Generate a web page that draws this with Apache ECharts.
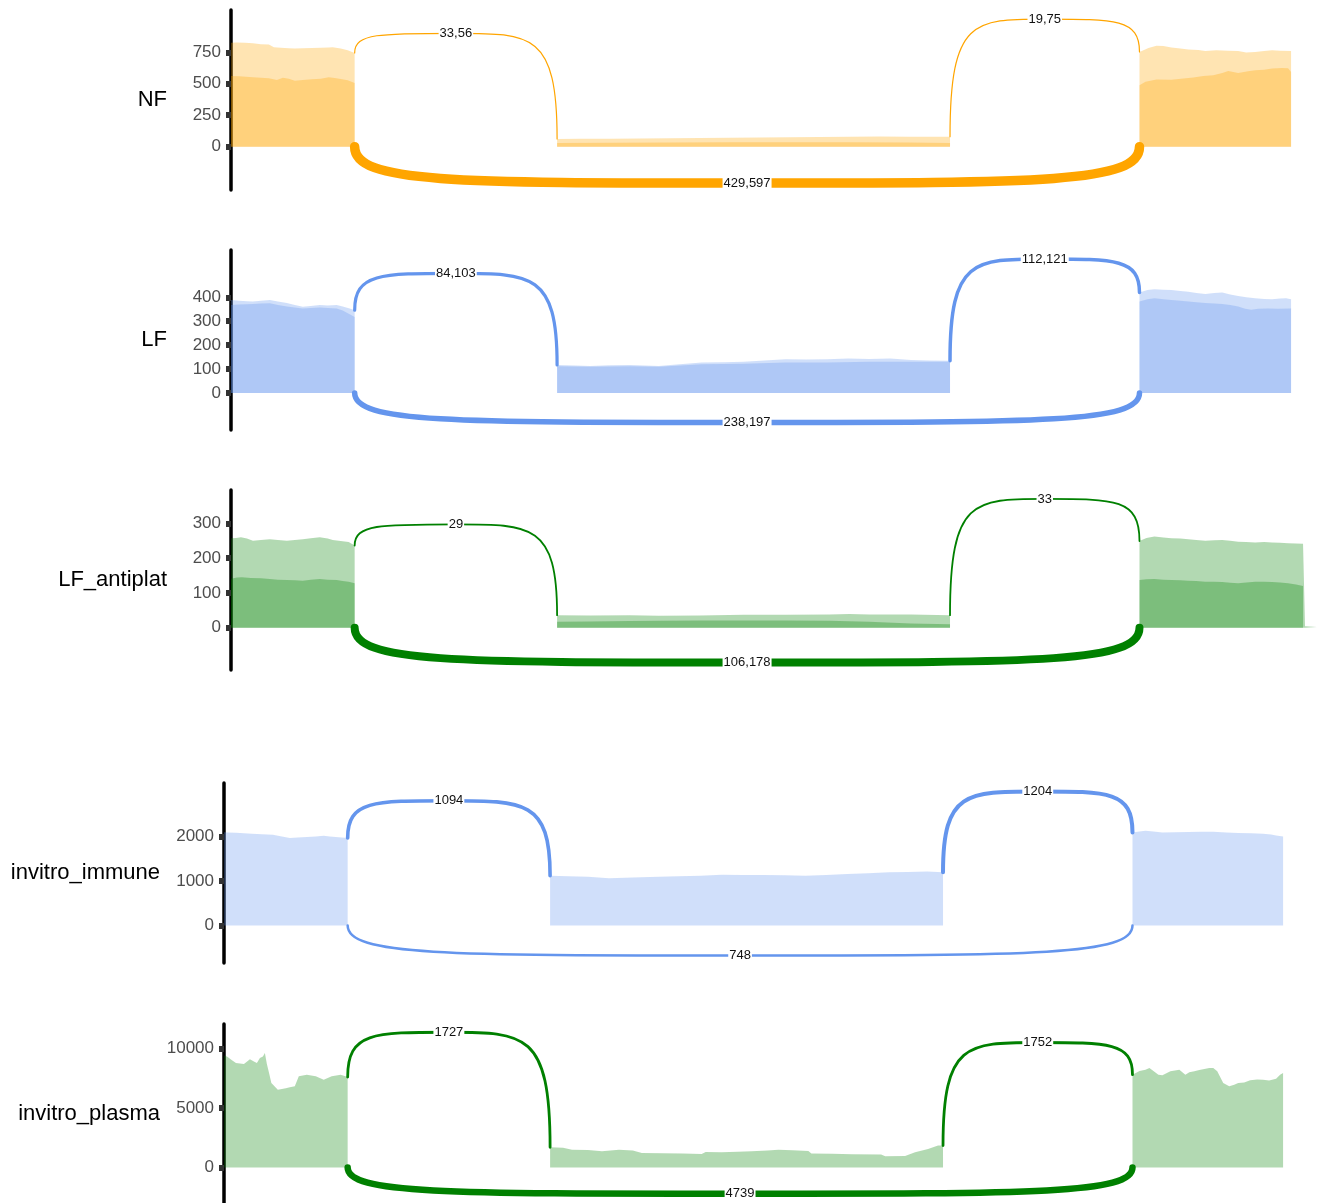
<!DOCTYPE html>
<html>
<head>
<meta charset="utf-8">
<script src="https://cdn.jsdelivr.net/npm/echarts@6/dist/echarts.min.js"></script>
<style>
html,body{margin:0;padding:0;background:#fff;}
#chart{width:1317px;height:1203px;}
</style>
</head>
<body>
<div id="chart"></div>
<script>
// ---------- DATA ----------
const sampleNames = ['NF', 'LF', 'LF_antiplat', 'invitro_immune', 'invitro_plasma'];

// tick labels per panel
const nfTicks = [0, 250, 500, 750];
const lfTicks = [0, 100, 200, 300, 400];
const apTicks = [0, 100, 200, 300];
const imTicks = [0, 1000, 2000];
const plTicks = [0, 5000, 10000];

// coverage: [position, depth], segments = exon1, middle exon, exon3
const nfA_e1 = [[0,826],[6,828],[14,826],[22,822],[30,814],[38,812],[43,790],[50,786],[58,782],[64,780],[72,783],[81,785],[90,786],[98,788],[102,790],[110,780],[117,767],[124,745]];
const nfA_mid = [[327,62],[350,63],[380,64],[410,66],[440,68],[470,70],[500,72],[530,74],[560,76],[590,78],[620,80],[650,81],[680,80],[700,80],[721,79]];
const nfA_e3 = [[911,753],[920,785],[928,801],[935,800],[943,788],[952,780],[960,772],[970,768],[977,761],[988,766],[1000,762],[1010,760],[1018,748],[1027,752],[1036,760],[1044,766],[1052,762],[1063,760]];
const nfB_e1 = [[0,562],[8,560],[15,556],[22,551],[30,548],[38,543],[46,530],[52,548],[58,540],[64,523],[72,530],[81,535],[90,540],[98,552],[104,546],[110,538],[117,528],[124,507]];
const nfB_mid = [[327,30],[380,31],[440,33],[500,35],[560,36],[620,35],[680,33],[721,30]];
const nfB_e3 = [[911,489],[917,515],[928,534],[943,532],[955,542],[965,550],[975,562],[985,568],[994,586],[1000,602],[1010,586],[1020,600],[1027,608],[1036,612],[1044,621],[1054,626],[1060,624],[1063,594]];

const lfA_e1 = [[0,389],[8,386],[16,384],[22,382],[30,386],[39,389],[47,382],[56,376],[64,368],[72,360],[80,364],[89,368],[97,366],[106,368],[112,362],[119,353],[124,346]];
const lfA_mid = [[327,117],[345,115],[360,113],[380,116],[400,117],[429,113],[450,120],[472,127],[494,129],[514,131],[535,136],[556,141],[577,140],[598,141],[619,144],[640,142],[661,144],[682,138],[700,136],[721,135]];
const lfA_e3 = [[911,420],[919,430],[926,434],[935,432],[943,430],[952,426],[960,423],[968,418],[977,414],[986,418],[994,420],[1002,412],[1010,405],[1018,400],[1027,396],[1036,393],[1044,392],[1052,395],[1058,396],[1063,392]];
const lfB_e1 = [[0,368],[8,370],[16,371],[22,372],[30,374],[39,375],[47,368],[56,362],[64,357],[72,353],[80,355],[89,357],[97,355],[106,353],[112,345],[119,329],[124,318]];
const lfB_mid = [[327,112],[360,110],[400,112],[429,110],[472,120],[514,122],[556,127],[598,127],[640,131],[682,131],[721,131]];
const lfB_e3 = [[911,382],[919,392],[926,396],[935,392],[943,389],[952,386],[960,382],[968,379],[977,376],[986,374],[994,372],[1002,368],[1010,362],[1017,352],[1023,348],[1030,352],[1040,353],[1050,352],[1063,353]];

const apA_e1 = [[0,257],[5,258],[10,260],[16,256],[22,250],[30,252],[39,254],[47,252],[56,250],[64,252],[72,254],[80,257],[89,260],[97,256],[102,252],[110,249],[118,246],[124,236]];
const apA_mid = [[327,36],[360,35],[400,36],[429,34],[470,35],[514,37],[556,37],[600,38],[620,39],[640,38],[682,38],[721,36]];
const apA_e3 = [[911,249],[918,258],[926,262],[935,259],[943,257],[952,256],[960,254],[968,252],[977,250],[986,251],[994,252],[1002,250],[1010,247],[1018,246],[1027,245],[1036,246],[1044,245],[1052,244],[1060,243],[1068,242],[1075,241],[1077,4],[1089,2]];
const apB_e1 = [[0,141],[6,144],[11,145],[20,143],[30,142],[39,140],[47,138],[56,137],[64,136],[72,135],[80,138],[89,140],[97,138],[106,137],[112,134],[118,132],[124,128]];
const apB_mid = [[327,17],[360,18],[400,19],[429,20],[470,21],[514,21],[556,21],[600,20],[640,17],[682,12],[721,10]];
const apB_e3 = [[911,137],[918,139],[926,140],[935,138],[943,137],[952,136],[960,135],[968,134],[977,132],[986,132],[994,131],[1002,129],[1010,128],[1018,130],[1027,132],[1036,132],[1044,131],[1052,130],[1060,128],[1068,124],[1075,120]];

const im_e1 = [[0,2095],[3,2090],[12,2080],[20,2070],[28,2060],[38,2050],[49,2038],[58,2000],[66,1964],[74,1975],[83,1986],[92,2000],[100,2016],[106,2000],[112,1986],[118,1975],[124,1964]];
const im_mid = [[327,1117],[345,1105],[365,1093],[386,1057],[410,1075],[436,1093],[456,1102],[478,1117],[499,1140],[520,1135],[541,1132],[562,1125],[583,1117],[604,1135],[625,1155],[646,1170],[667,1192],[686,1200],[705,1214],[721,1192]];
const im_e3 = [[911,2090],[918,2110],[924,2128],[932,2110],[941,2090],[954,2095],[967,2098],[980,2102],[992,2105],[1005,2090],[1017,2075],[1030,2068],[1042,2060],[1050,2040],[1055,2023],[1062,2000]];

const pl_e1 = [[0,9400],[3,9330],[8,9000],[12,8770],[20,8700],[26,9100],[30,8900],[33,8770],[36,9200],[39,9330],[41,9610],[43,8700],[45,8000],[47.5,7100],[54,6540],[62,6650],[66,6750],[71,6820],[75,7660],[83,7800],[92,7660],[100,7380],[108,7660],[117,7800],[124,7600]];
const pl_mid = [[327,1700],[340,1650],[349,1500],[365,1480],[379,1360],[396,1500],[410,1420],[419,1225],[440,1200],[460,1180],[479,1140],[483,1310],[499,1280],[515,1330],[529,1360],[545,1420],[556,1500],[570,1450],[586,1380],[589,1170],[610,1150],[630,1120],[659,1086],[663,945],[683,970],[693,1280],[706,1560],[716,1840],[721,1840]];
const pl_e3 = [[911,7800],[918,8100],[924,8210],[928,8350],[932,8100],[937,7800],[941,7750],[949,8080],[958,8210],[964,7800],[968,8000],[973,8080],[978,8200],[983,8270],[988,8350],[992,8350],[996,8080],[1002,7100],[1008,6820],[1013,6950],[1017,7100],[1023,7150],[1029,7330],[1036,7400],[1042,7380],[1048,7300],[1050,7250],[1055,7450],[1059,7800],[1062,7940]];

// junction arcs: [fromPos, fromDepth, toPos, toDepth, apexDepth]
const nfArcs = [[124,745,327,62,901],[721,79,911,753,1014],[124,0,911,0,-288]];
const nfArcLabels = ['33,56','19,75','429,597'];
const lfArcs = [[124,346,327,117,500],[721,135,911,420,560],[124,0,911,0,-123]];
const lfArcLabels = ['84,103','112,121','238,197'];
const apArcs = [[124,236,327,36,297],[721,36,911,249,370],[124,0,911,0,-100]];
const apArcLabels = ['29','33','106,178'];
const imArcs = [[124,1964,327,1117,2802],[721,1192,911,2090,3011],[124,0,911,0,-674]];
const imArcLabels = ['1094','1204','748'];
const plArcs = [[124,7600,327,1700,11360],[721,1840,911,7800,10500],[124,0,911,0,-2200]];
const plArcLabels = ['1727','1752','4739'];

// ---------- STYLE / LAYOUT ----------
const FONT = '"Liberation Sans", Arial, Helvetica, sans-serif';
const panels = [
  {layers:[[nfA_e1,nfA_mid,nfA_e3],[nfB_e1,nfB_mid,nfB_e3]], arcs:nfArcs, labels:nfArcLabels, ticks:nfTicks,
   stroke:'#FFA500', fill:'rgba(255,165,0,0.3)', widths:[1.2,1.2,9.5], top:10, left:231, min:-344, max:1086},
  {layers:[[lfA_e1,lfA_mid,lfA_e3],[lfB_e1,lfB_mid,lfB_e3]], arcs:lfArcs, labels:lfArcLabels, ticks:lfTicks,
   stroke:'#6495ED', fill:'rgba(100,149,237,0.3)', widths:[3.2,3.5,5.5], top:250, left:231, min:-154.6, max:597.7},
  {layers:[[apA_e1,apA_mid,apA_e3],[apB_e1,apB_mid,apB_e3]], arcs:apArcs, labels:apArcLabels, ticks:apTicks,
   stroke:'#008000', fill:'rgba(0,128,0,0.3)', widths:[1.8,1.8,8], top:490, left:231, min:-121.6, max:395.7},
  {layers:[[im_e1,im_mid,im_e3]], arcs:imArcs, labels:imArcLabels, ticks:imTicks,
   stroke:'#6495ED', fill:'rgba(100,149,237,0.3)', widths:[3.6,4,2.5], top:783, left:224, min:-845, max:3200},
  {layers:[[pl_e1,pl_mid,pl_e3]], arcs:plArcs, labels:plArcLabels, ticks:plTicks,
   stroke:'#008000', fill:'rgba(0,128,0,0.3)', widths:[2.8,2.8,6.5], top:1024, left:224, min:-2982, max:12055}
];

const grids = [], xAxes = [], yAxes = [], series = [];
panels.forEach((p, i) => {
  grids.push({left: p.left, top: p.top, width: 1086, height: 180});
  xAxes.push({type:'value', gridIndex:i, min:0, max:1089, show:false});
  yAxes.push({
    type:'value', gridIndex:i, min:p.min, max:p.max,
    name: sampleNames[i], nameLocation:'middle', nameRotate:0, nameGap:64,
    nameTextStyle:{fontSize:22, color:'#000', fontFamily:FONT, align:'right', verticalAlign:'middle'},
    axisLine:{show:true, onZero:false, lineStyle:{color:'#000', width:3.5}},
    axisTick:{show:true, length:5, customValues:p.ticks, lineStyle:{color:'#333', width:6}},
    axisLabel:{show:true, customValues:p.ticks, fontSize:17, color:'#4d4d4d', margin:10, fontFamily:FONT,
      formatter: v => String(v)},
    splitLine:{show:false}
  });
  p.layers.forEach(layer => {
    layer.forEach(seg => {
      series.push({
        type:'line', xAxisIndex:i, yAxisIndex:i, data:seg, symbol:'none', silent:true,
        lineStyle:{width:0, opacity:0}, areaStyle:{color:p.fill, opacity:1}, z:2
      });
    });
  });
  series.push({
    type:'custom', xAxisIndex:i, yAxisIndex:i, data:p.arcs, clip:false, silent:true, z:5,
    renderItem: function(params, api) {
      const p0 = api.coord([api.value(0), api.value(1)]);
      const p3 = api.coord([api.value(2), api.value(3)]);
      const ym = api.coord([api.value(0), api.value(4)])[1];
      const xm = (p0[0] + p3[0]) / 2;
      const k = 0.25;
      const d = 'M' + p0[0] + ',' + p0[1] +
        ' C' + p0[0] + ',' + ym + ' ' + (p0[0] + k * (xm - p0[0])) + ',' + ym + ' ' + xm + ',' + ym +
        ' C' + (p3[0] - k * (p3[0] - xm)) + ',' + ym + ' ' + p3[0] + ',' + ym + ' ' + p3[0] + ',' + p3[1];
      return {
        type:'group',
        children:[
          {type:'path', shape:{pathData:d}, style:{fill:null, stroke:p.stroke, lineWidth:p.widths[params.dataIndex], lineCap:'round'}},
          {type:'text', x:xm, y:ym, z2:10, style:{text:p.labels[params.dataIndex], fill:'#111', fontSize:13, fontFamily:FONT,
            align:'center', verticalAlign:'middle', backgroundColor:'#fff', padding:[0,1]}}
        ]
      };
    }
  });
});

const chart = echarts.init(document.getElementById('chart'), null, {renderer:'canvas'});
chart.setOption({
  animation:false,
  backgroundColor:'#fff',
  grid:grids, xAxis:xAxes, yAxis:yAxes, series:series
});
</script>
</body>
</html>
